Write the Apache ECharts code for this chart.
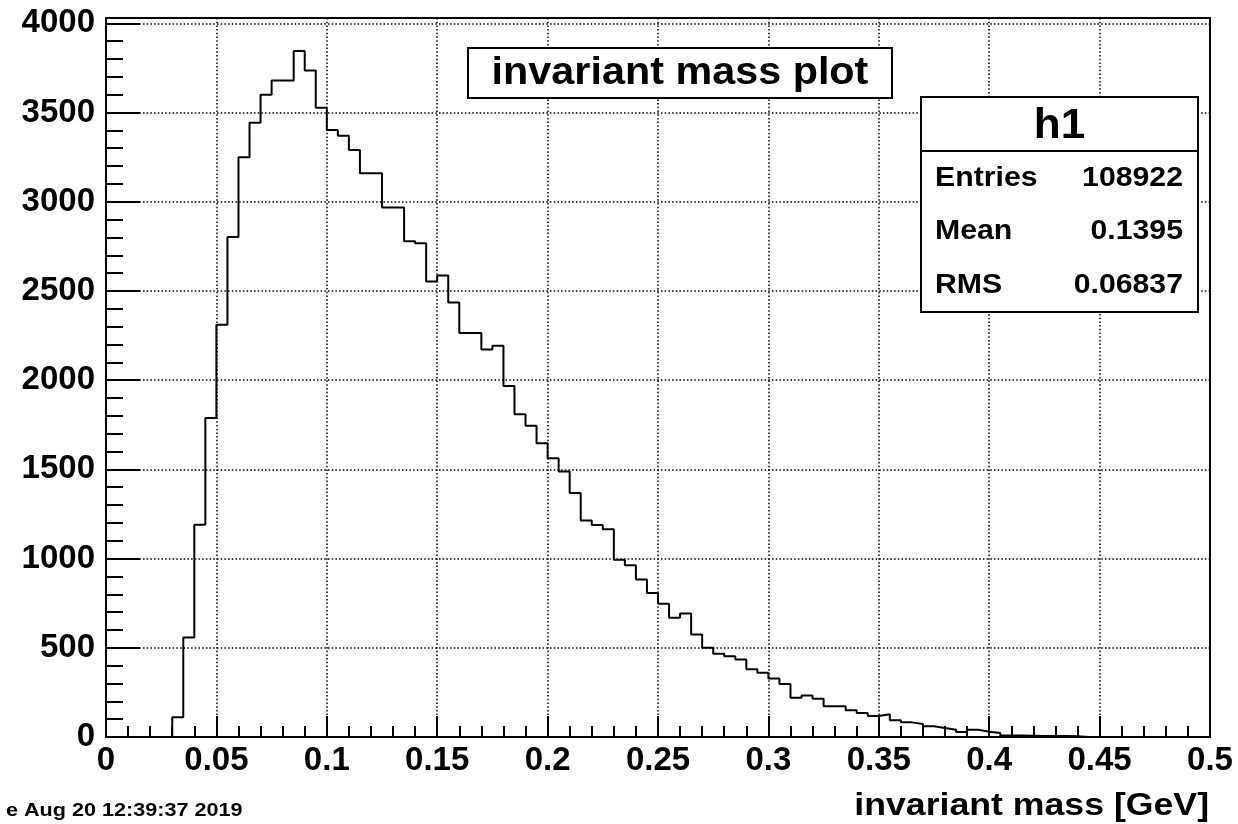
<!DOCTYPE html>
<html>
<head>
<meta charset="utf-8">
<title>invariant mass plot</title>
<script src="https://cdn.jsdelivr.net/npm/echarts@6/dist/echarts.min.js"></script>
<style>
  html, body { margin: 0; padding: 0; background: #ffffff; }
  #chart { width: 1238px; height: 824px; }
</style>
</head>
<body>
<div id="chart"></div>
<script>
// Histogram h1: 100 bins of width 0.005 GeV from 0 to 0.5 GeV
const xMin = 0;
const xMax = 0.5;
const binWidth = 0.005;
const binCounts = [
  0, 0, 0, 0, 0, 0, 110, 557, 1190, 1788,
  2310, 2802, 3250, 3443, 3600, 3679, 3679, 3845, 3736, 3527,
  3402, 3370, 3290, 3160, 3160, 2968, 2968, 2779, 2767, 2553,
  2587, 2436, 2265, 2265, 2172, 2193, 1967, 1809, 1744, 1647,
  1562, 1488, 1368, 1214, 1188, 1164, 994, 962, 883, 807,
  747, 668, 692, 575, 500, 466, 453, 434, 380, 360,
  328, 297, 220, 233, 215, 172, 172, 150, 134, 118,
  127, 94, 82, 73, 60, 50, 41, 28, 41, 30,
  22, 9, 8, 7, 6, 6, 5, 4, 0, 0,
  0, 0, 0, 0, 0, 0, 0, 0, 0, 0
];

// Axis ticks
const yMax = 4030;
const yLabelValues = [0, 500, 1000, 1500, 2000, 2500, 3000, 3500, 4000];
const yMinorTickValues = [];
for (let v = 0; v <= 4000; v += 100) yMinorTickValues.push(v);

// Statistics box
const statsName = 'h1';
const statsRows = [
  ['Entries', '108922'],
  ['Mean', '0.1395'],
  ['RMS', '0.06837']
];
const plotTitle = 'invariant mass plot';
const xAxisTitle = 'invariant mass [GeV]';
const dateStamp = 'e Aug 20 12:39:37 2019';

// Outline points: lower edge of every bin, closed at the upper edge of the last bin
const outline = binCounts.map((c, i) => [+(xMin + i * binWidth).toFixed(3), c]);
outline.push([xMax, binCounts[binCounts.length - 1]]);

const FONT = "'Liberation Sans', Arial, Helvetica, sans-serif";
const dotted = { color: '#000', width: 1.5, type: [1.5, 2.2] };

const chart = echarts.init(document.getElementById('chart'), null, { renderer: 'canvas' });

const gridLeft = 106, gridTop = 18, gridRight = 28, gridBottom = 87;

const statsX = 921, statsY = 97, statsW = 277, statsH = 215;
const statsGraphics = [
  {
    type: 'rect', z: 100,
    shape: { x: statsX, y: statsY, width: statsW, height: statsH },
    style: { fill: '#fff', stroke: '#000', lineWidth: 2 }
  },
  {
    type: 'line', z: 101,
    shape: { x1: statsX, y1: 151, x2: statsX + statsW, y2: 151 },
    style: { stroke: '#000', lineWidth: 2 }
  },
  {
    type: 'text', z: 101, x: statsX + statsW / 2, y: 126, scaleX: 1.05,
    style: { text: statsName, font: 'bold 42px ' + FONT, fill: '#000',
      textAlign: 'center', align: 'center', textVerticalAlign: 'middle', verticalAlign: 'middle' }
  }
];
const rowY = [179, 232, 286];
statsRows.forEach((row, i) => {
  statsGraphics.push({
    type: 'text', z: 101, x: 935, y: rowY[i], scaleX: 1.12,
    style: { text: row[0], font: 'bold 27px ' + FONT, fill: '#000',
      textAlign: 'left', align: 'left', textVerticalAlign: 'middle', verticalAlign: 'middle' }
  });
  statsGraphics.push({
    type: 'text', z: 101, x: 1183, y: rowY[i], scaleX: 1.12,
    style: { text: row[1], font: 'bold 27px ' + FONT, fill: '#000',
      textAlign: 'right', align: 'right', textVerticalAlign: 'middle', verticalAlign: 'middle' }
  });
});

const option = {
  backgroundColor: '#ffffff',
  animation: false,
  grid: {
    left: gridLeft, top: gridTop, right: gridRight, bottom: gridBottom,
    show: true, borderColor: '#000', borderWidth: 2, backgroundColor: 'transparent'
  },
  xAxis: {
    type: 'value',
    min: xMin, max: xMax, interval: 0.05,
    axisLine: { show: true, onZero: false, lineStyle: { color: '#000', width: 2 } },
    axisTick: { show: true, inside: true, length: 21, lineStyle: { color: '#000', width: 2 } },
    minorTick: { show: true, splitNumber: 5, length: 11, lineStyle: { color: '#000', width: 2 } },
    splitLine: { show: true, lineStyle: dotted },
    axisLabel: {
      show: true, margin: 7, color: '#000',
      fontFamily: FONT, fontWeight: 'bold', fontSize: 33
    }
  },
  yAxis: [
    {
      type: 'value',
      min: 0, max: yMax, interval: 500,
      position: 'left',
      axisLine: { show: true, lineStyle: { color: '#000', width: 2 } },
      axisTick: { show: true, inside: true, length: 34, customValues: yLabelValues,
        lineStyle: { color: '#000', width: 2 } },
      splitLine: { show: true, lineStyle: dotted },
      axisLabel: {
        show: true, margin: 11, color: '#000', customValues: yLabelValues,
        fontFamily: FONT, fontWeight: 'bold', fontSize: 33,
        formatter: v => (v > 4000 ? '' : String(v))
      }
    },
    {
      type: 'value',
      min: 0, max: yMax, interval: 100,
      position: 'left', offset: 0,
      axisLine: { show: false },
      axisTick: { show: true, inside: true, length: 17, customValues: yMinorTickValues,
        lineStyle: { color: '#000', width: 2 } },
      splitLine: { show: false },
      axisLabel: { show: false }
    }
  ],
  series: [
    {
      type: 'line',
      name: statsName,
      xAxisIndex: 0, yAxisIndex: 0,
      step: 'end',
      data: outline,
      symbol: 'none',
      showSymbol: false,
      lineStyle: { color: '#000', width: 2 },
      z: 5
    }
  ],
  graphic: {
    elements: [
      // Title box
      {
        type: 'rect', z: 100,
        shape: { x: 468, y: 48, width: 424, height: 50 },
        style: { fill: '#fff', stroke: '#000', lineWidth: 2 }
      },
      {
        type: 'text', z: 101, x: 680, y: 73, scaleX: 1.06,
        style: { text: plotTitle, font: 'bold 39px ' + FONT, fill: '#000',
          textAlign: 'center', align: 'center', textVerticalAlign: 'middle', verticalAlign: 'middle' }
      },
      ...statsGraphics,
      // X axis title, right aligned to the frame
      {
        type: 'text', z: 101, x: 1209, y: 806, scaleX: 1.15,
        style: { text: xAxisTitle, font: 'bold 31px ' + FONT, fill: '#000',
          textAlign: 'right', align: 'right', textVerticalAlign: 'middle', verticalAlign: 'middle' }
      },
      // Date stamp
      {
        type: 'text', z: 101, x: 6, y: 811, scaleX: 1.2,
        style: { text: dateStamp, font: 'bold 18px ' + FONT, fill: '#000',
          textAlign: 'left', align: 'left', textVerticalAlign: 'middle', verticalAlign: 'middle' }
      }
    ]
  }
};

chart.setOption(option);
</script>
</body>
</html>
